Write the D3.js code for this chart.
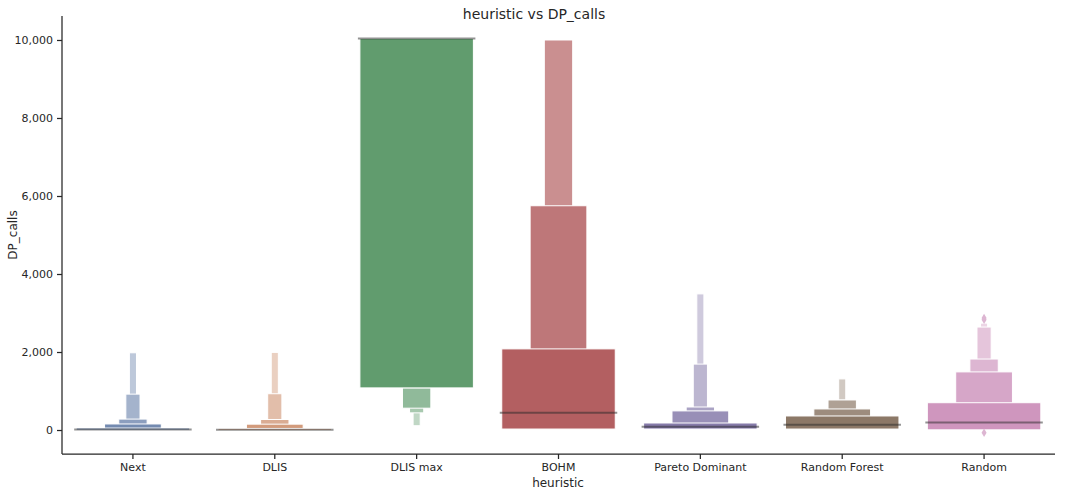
<!DOCTYPE html>
<html><head><meta charset="utf-8">
<script src="https://cdn.jsdelivr.net/npm/d3@7"></script>
<style>body{margin:0;background:#fff;font-family:"DejaVu Sans",sans-serif}</style>
</head><body><svg id="c" width="1068" height="495"></svg>
<script>
const categories = ["Next","DLIS","DLIS max","BOHM","Pareto Dominant","Random Forest","Random"];
const colors = ["#4c72b0","#dd8452","#55a868","#c44e52","#8172b3","#937860","#da8bc3"];
// letter values per category: [low, high] for level 0 (IQR), 1, 2, ...
const levelLows = [
  [0,0,0,0,0],
  [0,0,0,0,0],
  [1080,1080,560,440,110],
  [25,25,25],
  [25,25,25,25,25],
  [25,25,25,25,25],
  [5,5,5,5,5]
];
const levelHighs = [
  [50,155,280,920,1980],
  [40,150,270,930,1990],
  [10040,10040,10040,10040,10040],
  [2080,5750,10000],
  [180,490,590,1690,3490],
  [360,540,770,770,1310],
  [700,1490,1820,2640,2740]
];
const medians = [10,5,10040,440,85,135,190];
const outliers = [[],[],[],[],[],[],[2870,2830,-70]];
const yTicks = [0,2000,4000,6000,8000,10000];

const svg = d3.select("#c");
const L=62,R=1055,T=16,B=454;
const x = d3.scaleBand().domain(categories).range([L,R]);
const y = d3.scaleLinear().domain([-615,10615]).range([B,T]);
const fullW = x.bandwidth()*0.8;

function levelColor(c,k){
  const h = d3.hsl(c); h.s *= 0.72;
  return d3.interpolateRgb(h.formatHex(), "#ffffff")(k*0.15);
}

categories.forEach((cat,i)=>{
  const cx = x(cat)+x.bandwidth()/2;
  const g = svg.append("g");
  const n = levelLows[i].length;
  for(let k=n-1;k>=0;k--){
    const w = fullW/Math.pow(2,k);
    const lo=levelLows[i][k], hi=levelHighs[i][k];
    g.append("rect").attr("x",cx-w/2).attr("width",w)
      .attr("y",y(hi)).attr("height",Math.max(0,y(lo)-y(hi)))
      .attr("fill",levelColor(colors[i],k)).attr("stroke","#fff").attr("stroke-width",1);
  }
  g.append("line").attr("x1",cx-fullW/2-2).attr("x2",cx+fullW/2+2)
    .attr("y1",y(medians[i])).attr("y2",y(medians[i]))
    .attr("stroke","rgba(40,40,40,0.5)").attr("stroke-width",2);
  outliers[i].forEach(v=>{
    g.append("path").attr("d",d3.symbol(d3.symbolDiamond,22)())
      .attr("transform",`translate(${cx},${y(v)})`)
      .attr("fill",levelColor(colors[i],2));
  });
});

const ya = svg.append("g").attr("transform",`translate(${L},0)`)
  .call(d3.axisLeft(y).tickValues(yTicks).tickSize(5).tickPadding(4));
const xa = svg.append("g").attr("transform",`translate(0,${B})`)
  .call(d3.axisBottom(x).tickSize(5).tickPadding(4));
[ya,xa].forEach(a=>{
  a.selectAll("text").attr("font-size",11).attr("fill","#262626").attr("font-family","DejaVu Sans, sans-serif");
  a.selectAll("line,path").attr("stroke","#262626").attr("stroke-width",1.25);
});
ya.select(".domain").attr("d",`M0,${B}V${T}`);
xa.select(".domain").attr("d",`M${L},0H${R}`);

svg.append("text").attr("x",534).attr("y",19).attr("text-anchor","middle")
  .attr("font-size",14).attr("fill","#262626").text("heuristic vs DP_calls");
svg.append("text").attr("x",558).attr("y",487).attr("text-anchor","middle")
  .attr("font-size",12).attr("fill","#262626").text("heuristic");
svg.append("text").attr("transform",`translate(17,${235}) rotate(-90)`).attr("text-anchor","middle")
  .attr("font-size",12).attr("fill","#262626").text("DP_calls");
</script></body></html>
